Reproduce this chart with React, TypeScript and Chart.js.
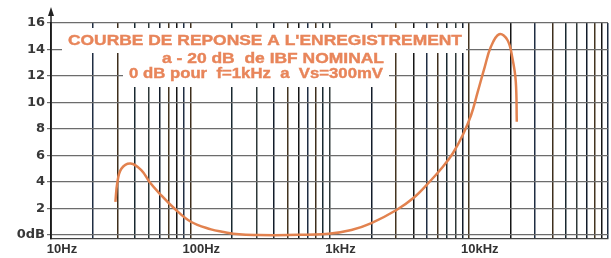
import React, { useEffect, useRef } from "react";
import { Chart, registerables } from "chart.js";
Chart.register(...registerables);

// Response curve (frequency in Hz, level in dB)
const freqHz = [29, 29.9, 32, 37.3, 44.5, 51, 60, 77, 101, 141, 169, 224, 311, 500, 984, 1436, 2000, 3027, 3981, 5236, 6520, 7690, 9060, 10400, 11600, 12940, 14420, 16560, 19000, 20620, 21760, 22130];
const levelDb = [2.5, 3.9, 5.0, 5.4, 4.9, 4.0, 3.15, 2.0, 1.0, 0.43, 0.25, 0.05, 0.0, 0.0, 0.1, 0.38, 0.9, 1.89, 2.77, 4.02, 5.15, 6.17, 7.55, 9.06, 10.8, 12.58, 14.2, 15.15, 14.7, 13.3, 11.6, 8.55];

// Axis ticks
const decades = [10, 100, 1000, 10000];
const multipliers = [1, 2, 3, 4, 5, 6, 7, 8, 9];
const xLabelValues = [10, 100, 1000, 10000];
const xLabelTexts = ["10Hz", "100Hz", "1kHz", "10kHz"];
const yTickValues = [0, 2, 4, 6, 8, 10, 12, 14, 16];
const yTickLabels = ["0dB", "2", "4", "6", "8", "10", "12", "14", "16"];

const titleLines = [
  "COURBE DE REPONSE A L'ENREGISTREMENT",
  "a - 20 dB  de IBF NOMINAL",
  "0 dB pour  f=1kHz  a  Vs=300mV",
];

const gridFreqs = [...decades.flatMap((d) => multipliers.map((m) => d * m)), 100000];
const vColors = ["#151515", "#1f2d42", "#3e2e1c", "#182830", "#2e3838", "#121c2a", "#433420"];

const overlayPlugin = {
  id: "overlay",
  afterDraw(chart: any) {
    const ctx = chart.ctx as CanvasRenderingContext2D;
    const { left, top } = chart.chartArea;
    ctx.save();
    // white boxes behind the title
    ctx.fillStyle = "#ffffff";
    ctx.fillRect(62, 28, 404, 25);
    ctx.fillRect(123, 52, 266, 35);
    // arrow on y axis
    ctx.strokeStyle = "#222";
    ctx.lineWidth = 1.5;
    ctx.beginPath();
    ctx.moveTo(left, top);
    ctx.lineTo(left, 12);
    ctx.stroke();
    ctx.fillStyle = "#222";
    ctx.beginPath();
    ctx.moveTo(left, 7);
    ctx.lineTo(left - 3, 16);
    ctx.lineTo(left + 3, 16);
    ctx.closePath();
    ctx.fill();
    // title text
    ctx.fillStyle = "#e8855a";
    ctx.textBaseline = "middle";
    ctx.textAlign = "left";
    ctx.font = "bold 15px 'Liberation Sans', Arial, sans-serif";
    const specs = [
      { x: 68, y: 41, w: 394 },
      { x: 162, y: 59, w: 222 },
      { x: 129, y: 74, w: 254 },
    ];
    titleLines.forEach((t, i) => {
      const s = specs[i];
      const mw = ctx.measureText(t).width;
      ctx.save();
      ctx.translate(s.x, s.y);
      ctx.scale(s.w / mw, 1);
      ctx.fillText(t, 0, 0);
      ctx.lineWidth = 0.4;
      ctx.strokeStyle = "#e8855a";
      ctx.strokeText(t, 0, 0);
      ctx.restore();
    });
    ctx.restore();
  },
};

export default function App() {
  const ref = useRef<HTMLCanvasElement | null>(null);
  useEffect(() => {
    document.body.style.margin = "0";
    const canvas = ref.current!;
    const chart = new Chart(canvas, {
      type: "line",
      data: {
        datasets: [
          {
            data: freqHz.map((f, i) => ({ x: f, y: levelDb[i] })),
            borderColor: "#e2824f",
            borderWidth: 2.5,
            pointRadius: 0,
            fill: false,
            tension: 0.4,
          },
        ],
      },
      options: {
        animation: false,
        responsive: false,
        maintainAspectRatio: false,
        layout: { padding: { top: 23, right: 0, left: 0, bottom: 0 } },
        plugins: { legend: { display: false }, tooltip: { enabled: false }, title: { display: false } },
        scales: {
          x: {
            type: "logarithmic",
            min: 10,
            max: 100000,
            afterBuildTicks: (scale: any) => {
              scale.ticks = gridFreqs.map((v) => ({ value: v }));
            },
            afterFit: (scale: any) => {
              scale.height = 19;
            },
            ticks: {
              autoSkip: false,
              maxRotation: 0,
              minRotation: 0,
              labelOffset: 11,
              padding: 3,
              color: "#333",
              font: { family: "'Liberation Sans', Arial, sans-serif", size: 13, weight: "bold" },
              callback: (v: any) => {
                const i = xLabelValues.indexOf(Number(v));
                return i >= 0 ? xLabelTexts[i] : "";
              },
            },
            grid: {
              drawTicks: false,
              lineWidth: 1.5,
              color: (c: any) => vColors[(c.index ?? 0) % vColors.length],
            },
            border: { display: true, color: "#444", width: 1.2 },
          },
          y: {
            type: "linear",
            min: -0.3,
            max: 16,
            afterBuildTicks: (scale: any) => {
              scale.ticks = yTickValues.map((v) => ({ value: v }));
            },
            afterFit: (scale: any) => {
              scale.width = 51;
            },
            ticks: {
              padding: 2,
              color: "#383838",
              font: { family: "'DejaVu Sans', sans-serif", size: 13, weight: "bold" },
              callback: (v: any) => {
                const i = yTickValues.indexOf(Number(v));
                return i >= 0 ? yTickLabels[i] : "";
              },
            },
            grid: { color: "#6c6c6c", lineWidth: 1.2, tickLength: 4 },
            border: { display: true, color: "#1a1a1a", width: 1.8 },
          },
        },
      },
      plugins: [overlayPlugin],
    } as any);
    return () => chart.destroy();
  }, []);
  return (
    <div style={{ position: "fixed", left: 0, top: 0, width: 611, height: 258, background: "#fff" }}>
      <canvas ref={ref} width={611} height={258} style={{ display: "block", width: 611, height: 258 }} />
    </div>
  );
}
